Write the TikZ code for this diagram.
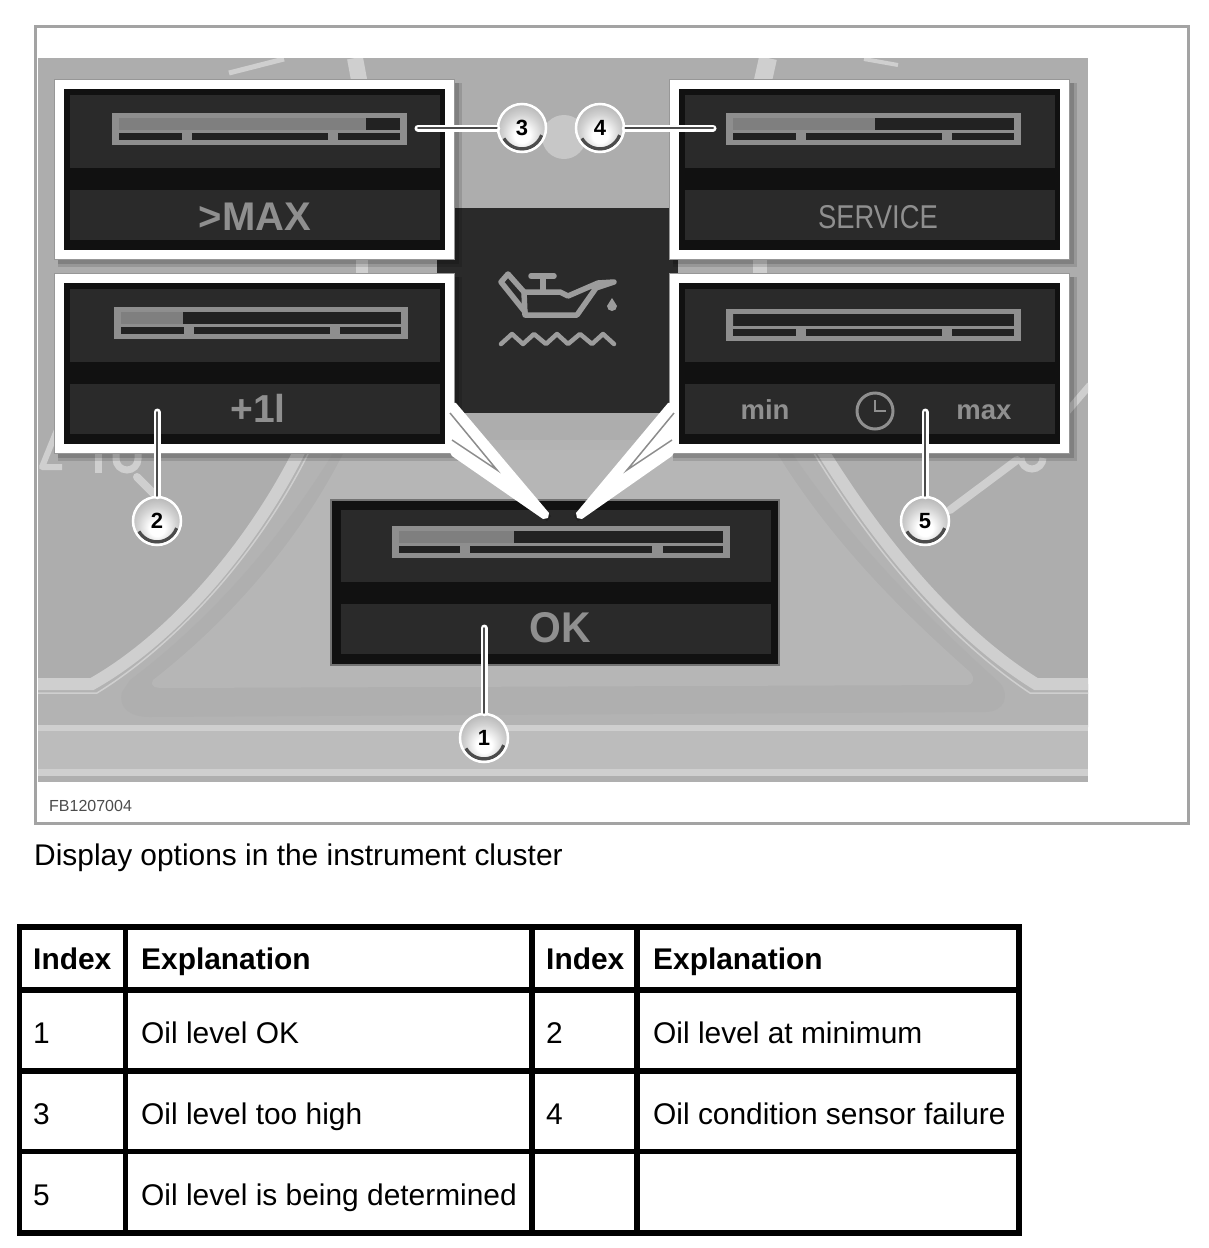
\documentclass[tikz,border=0pt]{standalone}
\usepackage{fontspec}
\setmainfont{Liberation Sans}
\definecolor{framegray}{HTML}{A3A3A3}
\definecolor{edgegray}{HTML}{979797}
\definecolor{dialgray}{HTML}{ADADAD}
\definecolor{midgray}{HTML}{B3B3B3}
\definecolor{softgray}{HTML}{AFAFAF}
\definecolor{innergray}{HTML}{B6B6B6}
\definecolor{lowgray}{HTML}{BCBCBC}
\definecolor{ringgray}{HTML}{CFCFCF}
\definecolor{panelblack}{HTML}{111111}
\definecolor{paneldark}{HTML}{2A2A2A}
\definecolor{bargray}{HTML}{8E8E8E}
\definecolor{levelgray}{HTML}{7F7F7F}
\definecolor{slotdark}{HTML}{222222}
\definecolor{icongray}{HTML}{9C9C9C}
\definecolor{textgray}{HTML}{8F8F8F}
\pgfdeclareradialshading{calloutball}{\pgfpoint{0bp}{-9bp}}{
	color(0bp)=(white); color(8bp)=(white); color(20bp)=(black!18); color(32bp)=(black!32); color(50bp)=(black!40)}
\newcommand{\oilpanel}[2]{
	\begin{scope}[shift={(#1,#2)}]
		\fill[black, opacity = .12] (3,3) rectangle (407,187);
		\fill[black, opacity = .15] (3,3) rectangle (404,184);
		\fill[edgegray] (-1,-1) rectangle (400,180);
		\fill[white] (0,0) rectangle (399,179);
		\fill[panelblack] (9,9) rectangle (390,170);
		\fill[paneldark] (15,15) rectangle (385,88);
		\fill[paneldark] (15,110) rectangle (385,160);
	\end{scope}
}
\newcommand{\oilbar}[8]{
	\fill[bargray] (#1,#2) rectangle (#3,#2+32);
	\fill[slotdark] (#1+7,#2+5) rectangle (#3-7,#2+17);
	\fill[levelgray] (#1+7,#2+5) rectangle (#4,#2+17);
	\fill[slotdark] (#1+7,#2+20) rectangle (#5,#2+27);
	\fill[slotdark] (#6,#2+20) rectangle (#7,#2+27);
	\fill[slotdark] (#8,#2+20) rectangle (#3-7,#2+27);
}

\begin{document}
\begin{tikzpicture}[x = 1pt, y = -1pt,
	ring/.style = {draw = ringgray, line width = 12},
	thinring/.style = {draw = ringgray, line width = 1.5},
	tick/.style = {draw = ringgray, line width = 8, line cap = round},
	callout/.style = {circle, minimum size = 48, inner sep = 0, draw = white, line width = 2.5, shading = calloutball,
		font = \fontsize{22}{24}\selectfont\bfseries, text = black,
		path picture = {\draw[black!70, line width = 3.5] (path picture bounding box.center) ++(20:21) arc (20:150:21);}},
	leader/.style = {draw = white, double = black!70, double distance = 2, line width = 2.5, line cap = round},
	wedge/.style = {fill = white},
	seam/.style = {draw = black!45, line width = 1.5},
	icon/.style = {draw = icongray, line width = 5.5, line join = round, line cap = round},
	display/.style = {inner sep = 0, anchor = base, text = textgray},
	boldtext/.style = {display, font = \fontsize{#1}{#1}\selectfont\bfseries},
	cell/.style = {inner sep = 0, anchor = base west, font = \fontsize{29.9}{34}\selectfont},
	head/.style = {cell, font = \fontsize{29.9}{34}\selectfont\bfseries},
	rule/.style = {draw = black, line width = 5.5}]
	\useasboundingbox (0,0) rectangle (1208,1248);
	\fill[white] (0,0) rectangle (1208,1248);
	\draw[framegray, line width = 3] (35,26) rectangle (1188,823);

	\begin{scope}
		\clip (38,58) rectangle (1088,782);
		\fill[dialgray] (38,58) rectangle (1088,782);
		\fill[midgray] (38,684) -- (92,684) .. controls (170,640) and (250,550) .. (300,440) -- (822,440) .. controls (890,560) and (965,640) .. (1036,684) -- (1088,684) -- (1088,727) -- (38,727) -- cycle;
		\fill[softgray] (122,692) .. controls (118,708) and (130,717) .. (150,717) -- (985,712) .. controls (1005,712) and (1010,695) .. (1000,683) .. controls (930,620) and (850,540) .. (790,450) -- (335,450) .. controls (280,540) and (210,620) .. (130,680) -- cycle;
		\fill[innergray] (153,680) .. controls (150,687) and (155,688) .. (165,688) -- (965,685) .. controls (975,685) and (975,678) .. (970,672) .. controls (900,610) and (830,540) .. (775,450) -- (345,450) .. controls (300,540) and (230,620) .. (153,680) -- cycle;
		\fill[lowgray] (38,727) rectangle (1088,782);
		\fill[ringgray] (38,725) rectangle (1088,731);
		\fill[ringgray] (38,769) rectangle (1088,776);
		\fill[softgray] (38,776) rectangle (1088,782);
		\draw[ring] (38,684) -- (92,684) .. controls (170,640) and (250,550) .. (300,450);
		\draw[thinring] (38,693) -- (97,693) .. controls (175,645) and (258,555) .. (310,450);
		\draw[ring] (1088,684) -- (1036,684) .. controls (965,640) and (890,560) .. (822,450);
		\draw[thinring] (1088,693) -- (1030,693) .. controls (958,645) and (882,565) .. (812,450);
		\draw[tick] (137,477) -- (153,493);
		\draw[tick] (950,510) -- (1017,460);
		\draw[ringgray, line width = 7] (1021,458) arc (180:0:11);
		\draw[ringgray, line width = 7] (1060,420) -- (1090,385);
		\draw[ringgray, line width = 6, line join = round] (57,430) -- (42,467) -- (62,467);
		\draw[ringgray, line width = 7] (98,450) -- (98,473);
		\draw[ringgray, line width = 7] (116,452) -- (116,459) arc (180:0:11) -- (138,452);
		\draw[ringgray, line width = 5] (229,73) -- (284,59);
		\draw[ringgray, line width = 16] (355,58) -- (360,85);
		\draw[ringgray, line width = 12] (362,255) -- (362,278);
		\draw[ringgray, line width = 18] (768,58) -- (762,85);
		\draw[ringgray, line width = 14] (760,255) -- (760,278);
		\draw[ringgray, line width = 4] (864,59) -- (898,65);
		\fill[ringgray!70!midgray] (564,137) circle (22);
	\end{scope}

	\fill[paneldark] (437,208) rectangle (678,413);
	\draw[icon] (524,292) -- (560,292) -- (568,296) -- (598,283) -- (614,282) -- (596,288) -- (577,315) -- (525,315) -- cycle;
	\draw[icon] (524,292) -- (508,274) -- (501,282) -- (525,312);
	\draw[icon] (543,277) -- (543,291);
	\draw[icon] (531,276) -- (554,276);
	\fill[icongray] (612,298) -- (617,306) arc (0:180:5) -- cycle;
	\draw[icon, line width = 4.5] (501,344) -- (512,334) -- (523,344) -- (534,334) -- (546,344) -- (557,334) -- (568,344) -- (580,334) -- (592,344) -- (603,334) -- (614,344);

	\oilpanel{55}{80}
	\oilbar{112}{113}{407}{366}{182}{192}{328}{338}
	\oilpanel{55}{274}
	\oilbar{114}{307}{408}{183}{184}{194}{330}{340}
	\oilpanel{670}{80}
	\oilbar{726}{113}{1021}{875}{796}{806}{942}{952}
	\oilpanel{670}{274}
	\oilbar{726}{309}{1021}{733}{796}{806}{942}{952}

	\fill[panelblack] (331,500) rectangle (779,665);
	\draw[black!55, line width = 1.5] (331,500) rectangle (779,665);
	\fill[paneldark] (341,510) rectangle (771,582);
	\fill[paneldark] (341,604) rectangle (771,654);
	\oilbar{392}{526}{730}{514}{460}{470}{652}{663}

	\fill[black, opacity = .25] (456,452) -- (547,521) -- (551,516) -- (460,446) -- cycle;
	\fill[black, opacity = .25] (668,452) -- (578,521) -- (574,516) -- (664,446) -- cycle;
	\fill[wedge] (446,402) -- (456,403) -- (549,513) -- (548,518) -- (543,519) -- (452,456) -- (447,447) -- cycle;
	\fill[wedge] (678,402) -- (668,403) -- (576,513) -- (577,518) -- (582,519) -- (672,456) -- (677,447) -- cycle;
	\draw[seam] (450,413) -- (497,470) -- (452,440);
	\draw[seam] (674,413) -- (627,470) -- (672,440);

	\coordinate (end1) at (484,628);
	\coordinate (end2) at (157,412);
	\coordinate (end3) at (418,128);
	\coordinate (end4) at (713,128);
	\coordinate (end5) at (925,412);
	\node[callout] (one) at (484,738) {1};
	\node[callout] (two) at (157,521) {2};
	\node[callout] (three) at (522,128) {3};
	\node[callout] (four) at (600,128) {4};
	\node[callout] (five) at (925,521) {5};
	\draw[leader] (one) -- (end1);
	\draw[leader] (two) -- (end2);
	\draw[leader] (three) -- (end3);
	\draw[leader] (four) -- (end4);
	\draw[leader] (five) -- (end5);

	\node[boldtext = 40] (maxlabel) at (255,230) {>MAX};
	\node[boldtext = 39] (pluslabel) at (258,422) {+1l};
	\node[display, font = \fontsize{33}{33}\selectfont, xscale = .83] (servicelabel) at (878,228) {SERVICE};
	\node[boldtext = 27.5] (minlabel) at (765,419) {min};
	\node[boldtext = 27.5] (maxsmall) at (984,419) {max};
	\node[boldtext = 43, xscale = .95] (oklabel) at (560,642) {OK};
	\node[draw = textgray, circle, line width = 3, minimum size = 36, inner sep = 0] (clock) at (875,411) {};
	\draw[textgray, line width = 2.5] (clock.center) ++(0,-11) -- (clock.center) -- ++(11,0);

	\node[inner sep = 0, anchor = base west, text = black!70, font = \fontsize{16}{16}\selectfont] (code) at (49,811) {FB1207004};
	\node[cell] (caption) at (34,865) {Display options in the instrument cluster};

	\draw[rule] (19.5,927) rectangle (1019,1233);
	\draw[rule] (19.5,990) -- (1019,990);
	\draw[rule] (19.5,1071) -- (1019,1071);
	\draw[rule] (19.5,1151.5) -- (1019,1151.5);
	\draw[rule] (125.5,927) -- (125.5,1233);
	\draw[rule] (532,927) -- (532,1233);
	\draw[rule] (637,927) -- (637,1233);
	\node[head] (h1) at (33,969) {Index};
	\node[head] (h2) at (141,969) {Explanation};
	\node[head] (h3) at (546,969) {Index};
	\node[head] (h4) at (653,969) {Explanation};
	\node[cell] (a1) at (33,1043) {1};
	\node[cell] (a2) at (141,1043) {Oil level OK};
	\node[cell] (a3) at (546,1043) {2};
	\node[cell] (a4) at (653,1043) {Oil level at minimum};
	\node[cell] (b1) at (33,1124) {3};
	\node[cell] (b2) at (141,1124) {Oil level too high};
	\node[cell] (b3) at (546,1124) {4};
	\node[cell] (b4) at (653,1124) {Oil condition sensor failure};
	\node[cell] (c1) at (33,1205) {5};
	\node[cell] (c2) at (141,1205) {Oil level is being determined};
\end{tikzpicture}
\end{document}
